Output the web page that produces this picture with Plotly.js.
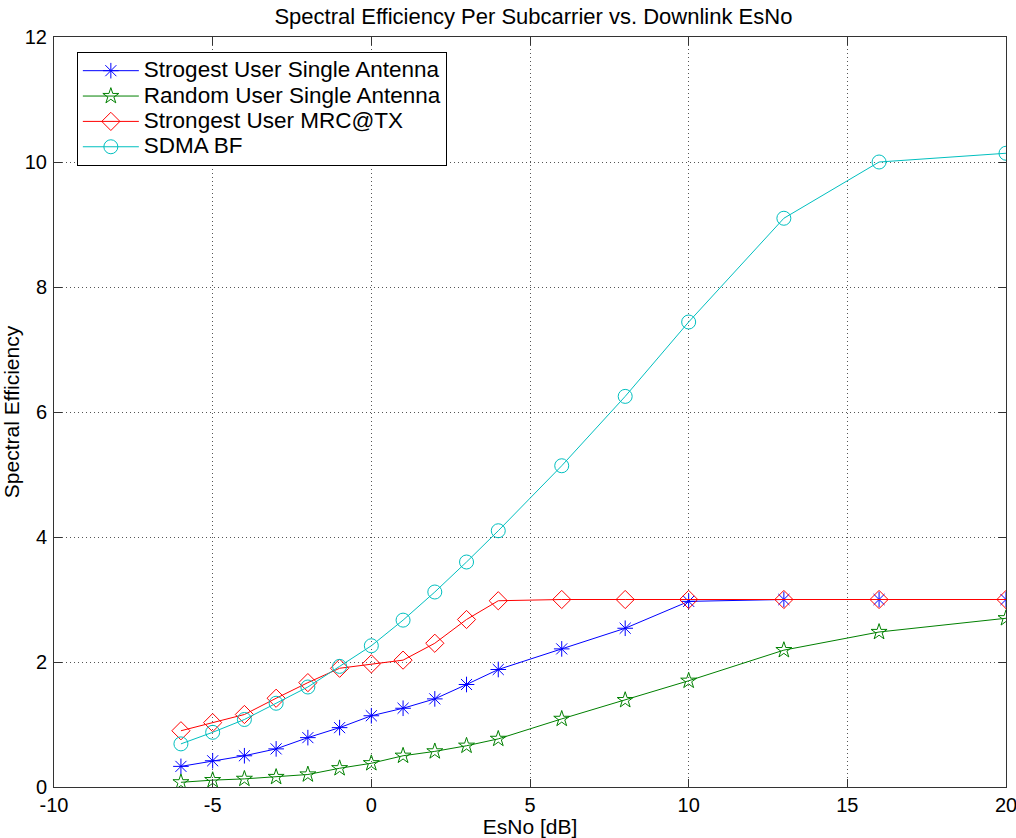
<!DOCTYPE html>
<html>
<head>
<meta charset="utf-8">
<script src="https://cdn.plot.ly/plotly-3.0.1.min.js"></script>
<style>
html,body{margin:0;padding:0;background:#fff;}
#chart{width:1016px;height:838px;}
.legendtext{font-size:22.5px !important;}
</style>
</head>
<body>
<div id="chart"></div>
<script>
const esno = [-6, -5, -4, -3, -2, -1, 0, 1, 2, 3, 4, 6, 8, 10, 13, 16, 20];
const strongestSingle = [0.33, 0.42, 0.50, 0.61, 0.79, 0.95, 1.14, 1.26, 1.41, 1.64, 1.88, 2.21, 2.54, 2.97, 3.0, 3.0, 3.0];
const randomSingle = [0.075, 0.11, 0.13, 0.16, 0.20, 0.30, 0.38, 0.50, 0.57, 0.66, 0.77, 1.09, 1.39, 1.70, 2.19, 2.48, 2.70];
const strongestMRC = [0.90, 1.03, 1.16, 1.42, 1.67, 1.90, 1.97, 2.03, 2.30, 2.68, 2.98, 3.0, 3.0, 3.0, 3.0, 3.0, 3.0];
const sdmaBF = [0.69, 0.875, 1.08, 1.34, 1.60, 1.93, 2.26, 2.67, 3.12, 3.60, 4.10, 5.14, 6.25, 7.44, 9.10, 10.0, 10.14];
const seriesNames = ["Strogest User Single Antenna", "Random User Single Antenna", "Strongest User MRC@TX", "SDMA BF"];
const xTicks = [-10, -5, 0, 5, 10, 15, 20];
const yTicks = [0, 2, 4, 6, 8, 10, 12];

const font = "Liberation Sans, Arial, sans-serif";
function tr(y, name, color, symbol, size) {
  return {
    x: esno, y: y, name: name, type: "scatter", mode: "lines+markers",
    line: {color: color, width: 1},
    marker: {symbol: symbol, size: size, color: color, line: {color: color, width: 1}}
  };
}
const data = [
  tr(strongestSingle, seriesNames[0], "#0000ff", "asterisk-open", 13),
  tr(randomSingle, seriesNames[1], "#008000", "star-open", 12),
  tr(strongestMRC, seriesNames[2], "#ff0000", "diamond-open", 14),
  tr(sdmaBF, seriesNames[3], "#00bfbf", "circle-open", 14)
];
const axisCommon = {
  showline: true, linecolor: "#333", linewidth: 1, mirror: "ticks",
  ticks: "inside", ticklen: 8, tickcolor: "#333",
  showgrid: true, gridcolor: "#555", griddash: "1px,3px", gridwidth: 1,
  zeroline: false, tickfont: {family: font, size: 20, color: "#000"},
  ticklabeloverflow: "allow"
};
const layout = {
  width: 1016, height: 838,
  margin: {l: 54, r: 10, t: 37, b: 51},
  paper_bgcolor: "#fff", plot_bgcolor: "#fff",
  title: {text: "Spectral Efficiency Per Subcarrier vs. Downlink EsNo", font: {family: font, size: 22, color: "#000"}, x: 0.525, xanchor: "center", y: 0.980, yanchor: "middle"},
  xaxis: Object.assign({}, axisCommon, {range: [-10, 20], tickvals: xTicks, ticktext: xTicks.map(String),
    title: {text: "EsNo [dB]", font: {family: font, size: 21, color: "#000"}, standoff: 0}}),
  yaxis: Object.assign({}, axisCommon, {range: [0, 12], tickvals: yTicks, ticktext: yTicks.map(String), ticklabelstandoff: 2,
    title: {text: "Spectral Efficiency", font: {family: font, size: 21, color: "#000"}, standoff: 6}}),
  showlegend: true,
  legend: {x: 0.024, y: 0.98, xanchor: "left", yanchor: "top", bgcolor: "#fff", bordercolor: "#000", borderwidth: 1,
    font: {family: font, size: 17.2, color: "#000"}, tracegroupgap: 0, itemwidth: 56}
};
Plotly.newPlot("chart", data, layout, {displayModeBar: false, staticPlot: true});
</script>
</body>
</html>
